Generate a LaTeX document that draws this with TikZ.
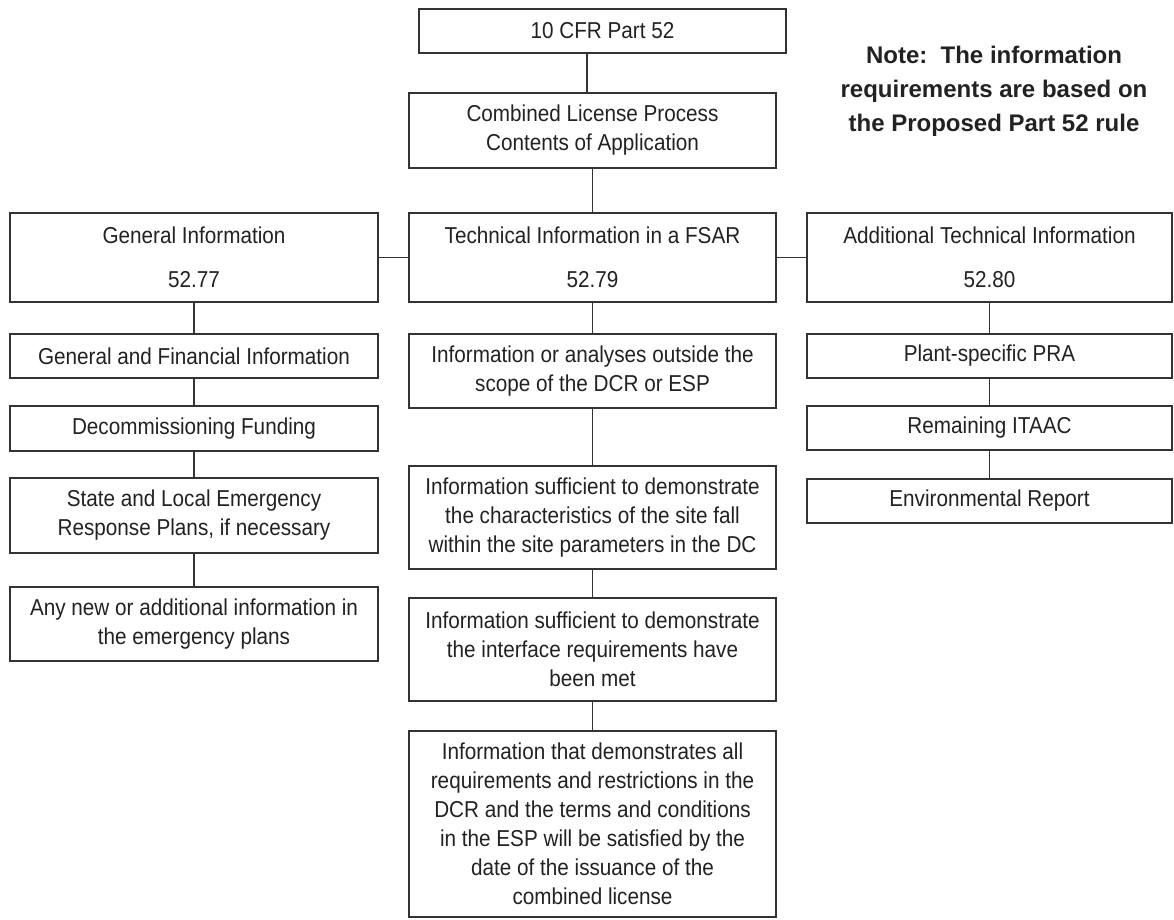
\documentclass[tikz,border=0pt]{standalone}
\usepackage{fontspec}
\setmainfont{Liberation Sans}[FakeStretch=0.9]
\newfontfamily\notefont{Liberation Sans}
\definecolor{boxline}{HTML}{333333}
\definecolor{txt}{HTML}{222222}
\tikzset{
  box/.style={draw=boxline, line width=1.3pt, inner sep=0pt, align=center,
    text=txt, font=\fontsize{23}{29}\selectfont},
  link/.style={draw=boxline, line width=1.3pt},
}
\newcommand{\bx}[6]{% name, x1, y1, x2, y2, text
  \node[box, minimum width={#4-#2}, minimum height={#5-#3}] (#1) at ({(#2+#4)/2},{(#3+#5)/2}) {#6};}
\begin{document}
\begin{tikzpicture}[x=1pt, y=-1pt]
\useasboundingbox (0,0) rectangle (1174,919);
\fill[white] (0,0) rectangle (1174,919);
\bx{top}{419}{9}{786}{53}{10 CFR Part 52}
\bx{comb}{409}{93}{776}{168}{Combined License Process\\Contents of Application}
\bx{gen}{10}{213}{378}{302}{General Information\\[15pt]52.77}
\bx{tech}{409}{213}{776}{302}{Technical Information in a FSAR\\[15pt]52.79}
\bx{add}{807}{213}{1172}{302}{Additional Technical Information\\[15pt]52.80}
\bx{gf}{10}{334}{378}{378}{General and Financial Information}
\bx{dec}{10}{406}{378}{451}{Decommissioning Funding}
\bx{state}{10}{478}{378}{553}{State and Local Emergency\\Response Plans, if necessary}
\bx{any}{10}{587}{378}{661}{Any new or additional information in\\the emergency plans}
\bx{out}{409}{334}{776}{408}{Information or analyses outside the\\scope of the DCR or ESP}
\bx{site}{409}{466}{776}{569}{Information sufficient to demonstrate\\the characteristics of the site fall\\within the site parameters in the DC}
\bx{intf}{409}{598}{776}{701}{Information sufficient to demonstrate\\the interface requirements have\\been met}
\bx{final}{409}{731}{776}{917}{Information that demonstrates all\\requirements and restrictions in the\\DCR and the terms and conditions\\in the ESP will be satisfied by the\\date of the issuance of the\\combined license}
\bx{pra}{807}{334}{1172}{378}{Plant-specific PRA}
\bx{itaac}{807}{406}{1172}{450}{Remaining ITAAC}
\bx{env}{807}{479}{1172}{523}{Environmental Report}
\node[align=center, text=txt, font=\notefont\bfseries\fontsize{24}{34}\selectfont] (note) at (994,91)
  {Note:\ \ The information\\requirements are based on\\the Proposed Part 52 rule};
\coordinate (c1) at (587,0);
\draw[link] (top.south -| c1) -- (comb.north -| c1);
\draw[link] (comb.south) -- (tech.north);
\draw[link] (gen.east) -- (tech.west);
\draw[link] (tech.east) -- (add.west);
\draw[link] (gen.south) -- (gf.north);
\draw[link] (gf.south) -- (dec.north);
\draw[link] (dec.south) -- (state.north);
\draw[link] (state.south) -- (any.north);
\draw[link] (tech.south) -- (out.north);
\draw[link] (out.south) -- (site.north);
\draw[link] (site.south) -- (intf.north);
\draw[link] (intf.south) -- (final.north);
\draw[link] (add.south) -- (pra.north);
\draw[link] (pra.south) -- (itaac.north);
\draw[link] (itaac.south) -- (env.north);
\end{tikzpicture}
\end{document}
